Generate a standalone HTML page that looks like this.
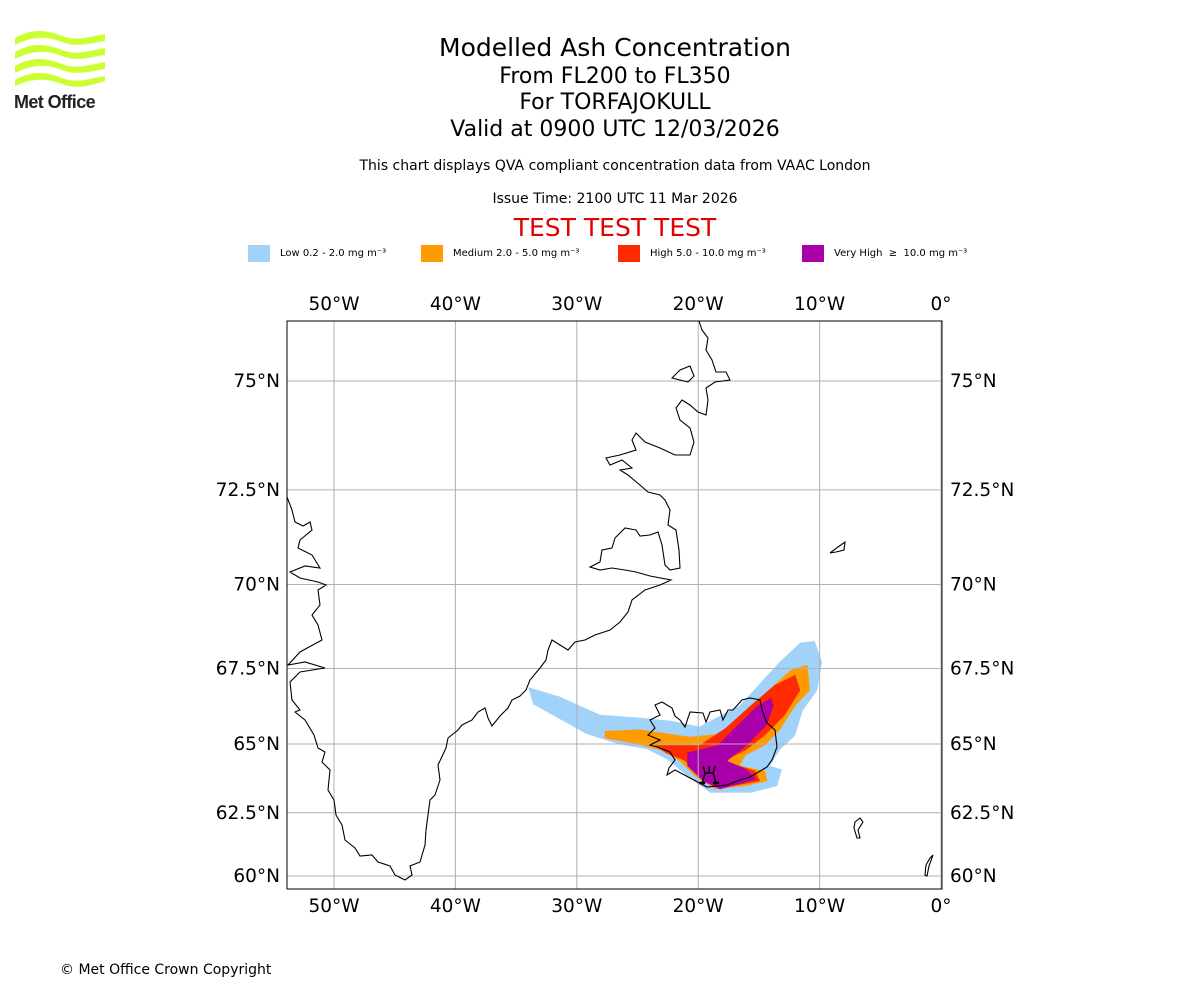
<!DOCTYPE html>
<html><head><meta charset="utf-8"><style>
body{margin:0;background:#fff;font-family:"DejaVu Sans","Liberation Sans",sans-serif;}
#wrap{position:relative;width:1200px;height:1000px;overflow:hidden;background:#fff}
.t{position:absolute;left:0;width:1230px;text-align:center;color:#000;white-space:nowrap}
svg text{font-family:"DejaVu Sans","Liberation Sans",sans-serif;white-space:pre}
</style></head><body>
<div id="wrap">
<svg style="position:absolute;left:12px;top:28px" width="96" height="85" viewBox="0 0 96 85">
<g fill="#ccff33">
<path d="M3 10 C20 0,35 2,50 8 C65 14,80 8,93 6 L93 13 C80 15,65 20,50 14 C35 8,20 8,3 17Z"/>
<path d="M3 24 C20 14,35 16,50 22 C65 28,80 22,93 20 L93 27 C80 29,65 34,50 28 C35 22,20 22,3 31Z"/>
<path d="M3 38 C20 28,35 30,50 36 C65 42,80 36,93 34 L93 41 C80 43,65 48,50 42 C35 36,20 36,3 45Z"/>
<path d="M3 52 C20 42,35 44,50 50 C65 56,80 50,93 48 L93 53 C80 57,65 62,50 56 C35 50,20 50,3 58Z"/>
</g>
<text x="2" y="80" font-size="18" font-weight="bold" fill="#222" letter-spacing="-0.6" style="font-family:'Liberation Sans Narrow','Liberation Sans',sans-serif">Met Office</text>
</svg>
<div class="t" style="top:33px;font-size:25px">Modelled Ash Concentration</div>
<div class="t" style="top:64px;font-size:22px">From FL200 to FL350</div>
<div class="t" style="top:90px;font-size:22px">For TORFAJOKULL</div>
<div class="t" style="top:117px;font-size:22px">Valid at 0900 UTC 12/03/2026</div>
<div class="t" style="top:158px;font-size:14px">This chart displays QVA compliant concentration data from VAAC London</div>
<div class="t" style="top:191px;font-size:14px">Issue Time: 2100 UTC 11 Mar 2026</div>
<div class="t" style="top:213px;font-size:25px;color:#e00000">TEST TEST TEST</div>
<div style="position:absolute;left:60px;top:962px;font-size:14px">© Met Office Crown Copyright</div>
<svg id="chart" width="1200" height="1000" style="position:absolute;left:0;top:0"></svg>
</div>
<script>
const legendLabels=["Low 0.2 - 2.0 mg m⁻³","Medium 2.0 - 5.0 mg m⁻³","High 5.0 - 10.0 mg m⁻³","Very High  ≥  10.0 mg m⁻³"];
const legendColors=["#a0d2fa","#ff9b00","#ff2a00","#aa00aa"];
const lonTicks=[-50,-40,-30,-20,-10,0];
const lonTickLabels=["50°W","40°W","30°W","20°W","10°W","0°"];
const latTicks=[75,72.5,70,67.5,65,62.5,60];
const latTickLabels=["75°N","72.5°N","70°N","67.5°N","65°N","62.5°N","60°N"];
const lowLon=[-34.0,-31.4,-28.1,-24.8,-22.3,-19.9,-16.6,-13.3,-11.6,-10.4,-9.8,-10.2,-11.4,-12.0,-13.3,-14.1,-13.1,-13.5,-15.7,-19.0,-20.9,-22.5,-24.2,-26.6,-29.2,-33.6];
const lowLat=[66.9,66.6,66.0,65.9,65.8,65.6,66.3,67.7,68.3,68.35,67.7,66.8,66.13,65.3,64.78,64.23,64.1,63.5,63.25,63.25,63.86,64.45,64.82,65.0,65.35,66.35];
const medLon=[-27.7,-24.8,-20.7,-18.2,-16.1,-14.1,-12.4,-11.0,-10.8,-12.0,-13.3,-14.5,-16.1,-16.6,-14.5,-14.3,-16.1,-18.6,-20.3,-21.5,-23.1,-25.6,-27.7];
const medLat=[65.45,65.5,65.25,65.35,66.1,66.85,67.45,67.62,66.8,66.3,65.47,64.96,64.6,64.23,64.05,63.68,63.5,63.38,63.86,64.4,64.78,65.05,65.2];
const highLon=[-23.6,-19.9,-17.8,-15.7,-13.7,-12.0,-11.6,-12.9,-14.5,-16.1,-17.8,-15.3,-14.9,-18.2,-19.9,-21.1,-22.7];
const highLat=[64.96,64.96,65.53,66.3,66.97,67.3,66.8,65.97,65.3,64.78,64.41,64.05,63.68,63.42,63.86,64.41,64.7];
const vhighLon=[-20.9,-18.4,-16.8,-15.1,-14.0,-13.8,-14.4,-16.0,-17.6,-16.0,-15.2,-18.2,-19.6,-20.9];
const vhighLat=[64.7,64.96,65.63,66.3,66.55,66.3,65.63,64.96,64.41,64.08,63.75,63.38,63.68,64.23];
const volcanoLon=[-19.1];
const volcanoLat=[63.9];

const NS="http://www.w3.org/2000/svg";
const svg=document.getElementById('chart');
const X0=287,X1=942,Y0=321,Y1=889;
const PX_PER_DEG=12.14, LON0X=941;
function merc(lat){return Math.log(Math.tan(Math.PI/4+lat*Math.PI/360));}
function xS(lon){return LON0X+lon*PX_PER_DEG;}
function yS(lat){return 381+(merc(75)-merc(lat))*696.6;}
function mk(tag,attrs){const e=document.createElementNS(NS,tag);for(const k in attrs)e.setAttribute(k,attrs[k]);svg.appendChild(e);return e;}

// legend
const lgX=[248,421,618,802];
legendLabels.forEach((l,i)=>{
  const r=mk('rect',{x:lgX[i],y:245,width:22,height:17,fill:legendColors[i]});
  
  
  const t=mk('text',{x:lgX[i]+32,y:256,'font-size':10,fill:'#000'});
  t.textContent=l;
  
  
});

// clip
const defs=mk('defs',{});
const cp=document.createElementNS(NS,'clipPath');cp.setAttribute('id','mapclip');
const cr=document.createElementNS(NS,'rect');cr.setAttribute('x',X0);cr.setAttribute('y',Y0);cr.setAttribute('width',X1-X0);cr.setAttribute('height',Y1-Y0);
cp.appendChild(cr);defs.appendChild(cp);
const g=mk('g',{'clip-path':'url(#mapclip)'});


function add(parent,tag,attrs){const e=document.createElementNS(NS,tag);for(const k in attrs)e.setAttribute(k,attrs[k]);parent.appendChild(e);return e;}

// ash layers
const layers=[[lowLon,lowLat,0,'ash-low'],[medLon,medLat,1,'ash-medium'],[highLon,highLat,2,'ash-high'],[vhighLon,vhighLat,3,'ash-very-high']];
layers.forEach(([lo,la,ci,nm])=>{
  const pts=lo.map((v,i)=>xS(v).toFixed(1)+','+yS(la[i]).toFixed(1)).join(' ');
  const p=add(g,'polygon',{points:pts,fill:legendColors[ci]});
  
  
});

// gridlines
lonTicks.forEach(l=>{const ln=add(g,'line',{x1:xS(l),x2:xS(l),y1:Y0,y2:Y1,stroke:'#b0b0b0','stroke-width':1});
  });
latTicks.forEach(l=>{const ln=add(g,'line',{x1:X0,x2:X1,y1:yS(l),y2:yS(l),stroke:'#b0b0b0','stroke-width':1});
  });

// coastlines (basemap, static)
const coastG=add(g,'g',{fill:'none',stroke:'#000','stroke-width':1.1});


const coasts=[
"M287,497 L292,510 295,522 303,526 310,522 312,530 300,540 298,548 312,555 320,568 305,566 290,572 300,578 318,582 326,585 318,590 320,605 312,615 318,625 322,640 300,652 288,665 305,662 325,668 300,672 290,682 292,700 300,710 295,712 305,720 314,735 318,748 325,752 322,762 330,770 328,790 334,800 336,815 342,825 345,840 355,848 360,856 372,855 378,862 390,866 395,875 405,880 412,875 410,866 420,862 425,845 426,830 428,815 430,800 435,795 440,780 438,765 446,748 448,738 458,730 462,725 472,720 478,712 485,708 488,718 492,726 500,716 508,708 512,700 520,696 526,690 530,680 540,668 546,660 548,650 552,640 560,645 568,650 575,642 585,640 595,635 610,630 620,622 628,612 632,600 645,590 660,585 671,580 650,576 636,572 625,570 612,568 600,570 590,567 600,562 602,550 612,548 615,538 625,528 636,530 640,536 650,535 658,532 662,545 665,565 670,570 680,568 679,550 676,530 668,525 670,510 665,500 660,495 648,492 640,485 628,475 620,470 632,468 622,460 610,465 606,458 620,455 636,450 632,440 636,433 645,442 660,448 675,455 690,455 694,442 690,428 680,420 676,408 682,400 690,405 698,412 706,415 708,400 706,388 715,382 730,380 726,372 716,372 712,360 706,350 708,338 702,330 699,321",
"M672,378 L680,370 690,366 694,376 688,382 Z",
"M662,702 L672,708 675,716 680,720 685,727 690,712 703,713 706,722 710,712 720,710 723,720 728,710 733,710 742,700 750,698 760,700 762,710 767,723 775,730 777,747 772,760 767,767 750,777 740,780 727,785 707,787 690,778 675,770 667,775 669,768 675,760 670,752 657,747 650,745 660,740 648,735 655,728 650,720 660,715 655,705 Z",
"M830,553 L838,547 845,542 844,550 836,552 Z",
"M855,822 L860,818 863,822 858,830 860,838 857,838 854,828 Z",
"M925,875 L926,865 930,858 933,855 929,866 927,876 Z"
];
coasts.forEach(d=>{const p=add(coastG,'path',{d:d});
  });

// volcano symbol
volcanoLon.forEach((v,i)=>{
  const cx=xS(v),cy=yS(volcanoLat[i]);
  const vg=add(g,'g',{stroke:'#000','stroke-width':1.5,fill:'none'});
  
  
  add(vg,'path',{d:`M${cx-7},${cy+8} L${cx-4},${cy-2} L${cx+4},${cy-2} L${cx+7},${cy+8} M${cx-4},${cy-2} L${cx-6},${cy-9} M${cx},${cy-2} L${cx},${cy-9} M${cx+4},${cy-2} L${cx+6},${cy-9}`});
  add(vg,'path',{d:`M${cx-10},${cy+8} L${cx-4},${cy+8} M${cx+4},${cy+8} L${cx+10},${cy+8}`,'stroke-width':2.5});
});

// frame
const fr=mk('rect',{x:X0,y:Y0,width:X1-X0,height:Y1-Y0,fill:'none',stroke:'#000','stroke-width':1});



// tick labels
lonTicks.forEach((l,i)=>{
  ['top','bottom'].forEach(pos=>{
    const t=mk('text',{x:xS(l),y:pos==='top'?310:912,'text-anchor':'middle','font-size':18.5,fill:'#000'});
    t.textContent=lonTickLabels[i];
    
    
  });
});
latTicks.forEach((l,i)=>{
  const t1=mk('text',{x:280,y:yS(l)+6,'text-anchor':'end','font-size':18.5,fill:'#000'});
  t1.textContent=latTickLabels[i];
  
  
  const t2=mk('text',{x:950,y:yS(l)+6,'text-anchor':'start','font-size':18.5,fill:'#000'});
  t2.textContent=latTickLabels[i];
  
  
});
</script>
</body></html>
